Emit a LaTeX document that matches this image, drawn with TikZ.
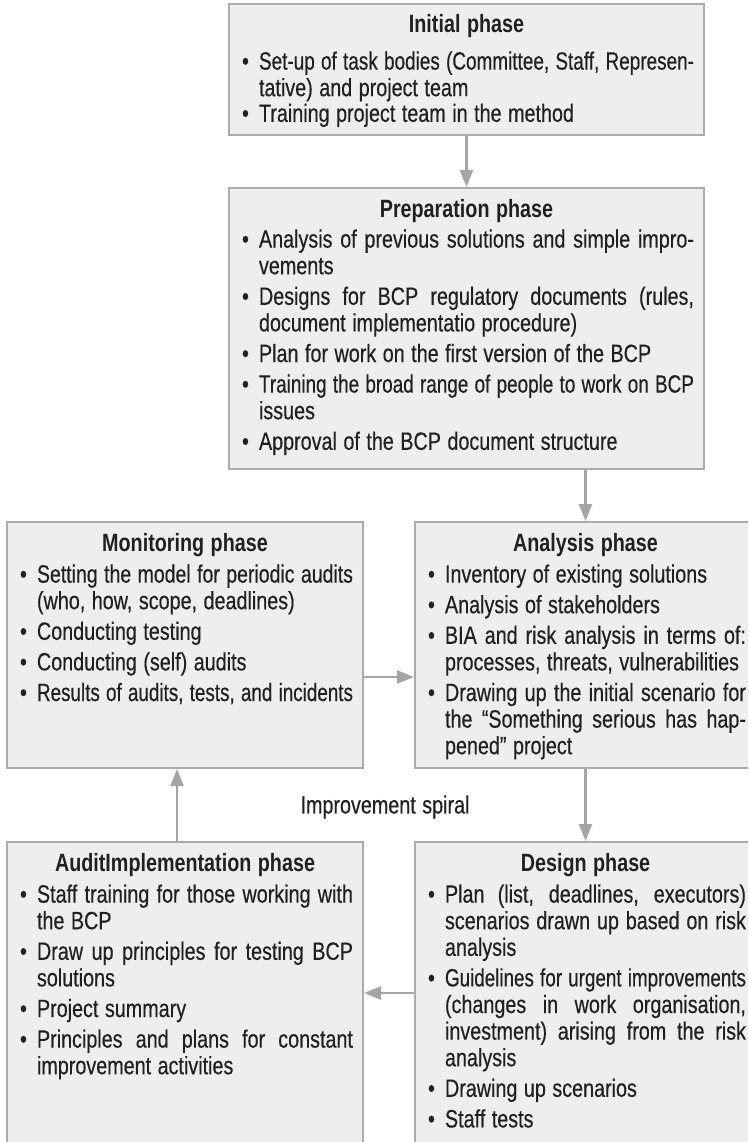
\documentclass[tikz,border=0pt]{standalone}
\usepackage{fontspec}
\usepackage{graphicx}
\setmainfont{Liberation Sans}[FakeStretch=0.79, UprightFeatures={FakeBold=0.4}]
\usetikzlibrary{arrows.meta}
\definecolor{boxfill}{HTML}{EEEEEE}
\definecolor{boxline}{HTML}{ABABAB}
\definecolor{arrowc}{HTML}{A5A5A5}
\definecolor{txt}{HTML}{231F20}
\newlength\phW
\newlength\phA
\newcommand\phSp{\spaceskip=0.26em plus 0.8em minus 0.08em\relax\xspaceskip=\spaceskip}
% fitted line: #1 = s (justified) or l (left), #2 = text
\newcommand\phFit[2]{%
  \setlength\phA{\dimexpr\linewidth-20pt\relax}%
  \settowidth\phW{\phSp #2}%
  \ifdim\phW>\phA
    \resizebox{\phA}{\height}{\phSp #2}%
  \else
    \makebox[\phA][#1]{\phSp #2}%
  \fi}
\newcommand\phB[2]{\makebox[20pt][l]{\hspace{3pt}\textbullet}\phFit{#1}{#2}}
\newcommand\phI[2]{\hspace*{20pt}\phFit{#1}{#2}}
\newcommand\phTitle[1]{\makebox[\linewidth][c]{\phSp\bfseries #1}}
\newcommand\phFont{\fontsize{25}{26.6}\selectfont}
\tikzset{
  phase/.style={draw=boxline, line width=2pt, fill=boxfill, anchor=north west,
    inner xsep=10pt, inner ysep=11pt, text height=18pt, align=left, text=txt,
    font=\phFont},
  flow/.style={draw=arrowc, line width=2.5pt, -{Triangle[length=17pt,width=13pt]}},
  plain/.style={text=txt, font=\phFont}
}
\begin{document}
\begin{tikzpicture}[x=1pt,y=-1pt]
\useasboundingbox (0,0) rectangle (748,1142);
\clip (0,0) rectangle (748,1142);

\node[phase, text width=455pt, text depth=91pt] (ini) at (228,3) {%
\phTitle{Initial phase}\\[10pt]
\phB{s}{Set-up of task bodies (Committee, Staff, Represen-}\\
\phI{l}{tative) and project team}\\[-1pt]
\phB{l}{Training project team in the method}};

\node[phase, text width=455pt, text depth=241pt] (prep) at (228,187) {%
\phTitle{Preparation phase}\\[4pt]
\phB{s}{Analysis of previous solutions and simple impro-}\\
\phI{l}{vements}\\[4pt]
\phB{s}{Designs for BCP regulatory documents (rules,}\\
\phI{l}{document implementatio procedure)}\\[4pt]
\phB{l}{Plan for work on the first version of the BCP}\\[4pt]
\phB{s}{Training the broad range of people to work on BCP}\\
\phI{l}{issues}\\[4pt]
\phB{l}{Approval of the BCP document structure}};

\node[phase, text width=336pt, text depth=206pt] (mon) at (6,521) {%
\phTitle{Monitoring phase}\\[5pt]
\phB{s}{Setting the model for periodic audits}\\
\phI{l}{(who, how, scope, deadlines)}\\[4pt]
\phB{l}{Conducting testing}\\[4pt]
\phB{l}{Conducting (self) audits}\\[4pt]
\phB{l}{Results of audits, tests, and incidents}};

\node[phase, text width=321pt, text depth=206pt] (ana) at (414,521) {%
\phTitle{Analysis phase}\\[5pt]
\phB{l}{Inventory of existing solutions}\\[4pt]
\phB{l}{Analysis of stakeholders}\\[4pt]
\phB{s}{BIA and risk analysis in terms of:}\\
\phI{l}{processes, threats, vulnerabilities}\\[4pt]
\phB{s}{Drawing up the initial scenario for}\\
\phI{s}{the “Something serious has hap-}\\
\phI{l}{pened” project}};

\node[phase, text width=336pt, text depth=300pt] (aud) at (6,841) {%
\phTitle{AuditImplementation phase}\\[5pt]
\phB{s}{Staff training for those working with}\\
\phI{l}{the BCP}\\[4pt]
\phB{s}{Draw up principles for testing BCP}\\
\phI{l}{solutions}\\[4pt]
\phB{l}{Project summary}\\[4pt]
\phB{s}{Principles and plans for constant}\\
\phI{l}{improvement activities}};

\node[phase, text width=321pt, text depth=300pt] (des) at (414,841) {%
\phTitle{Design phase}\\[5pt]
\phB{s}{Plan (list, deadlines, executors)}\\
\phI{s}{scenarios drawn up based on risk}\\
\phI{l}{analysis}\\[4pt]
\phB{s}{Guidelines for urgent improvements}\\
\phI{s}{(changes in work organisation,}\\
\phI{s}{investment) arising from the risk}\\
\phI{l}{analysis}\\[4pt]
\phB{l}{Drawing up scenarios}\\[4pt]
\phB{l}{Staff tests}};

\node[plain] (spiral) at (385,807) {\phSp Improvement spiral};

\draw[flow] (ini) -- (prep);
\draw[flow] (ana.north |- prep.south) -- (ana.north);
\draw[flow] ([yshift=-156pt]mon.north east) -- ([yshift=-156pt]ana.north west);
\draw[flow] (ana) -- (des);
\draw[flow] ([yshift=-152pt]des.north west) -- ([yshift=-152pt]aud.north east);
\draw[flow] ([xshift=-8pt]aud.north) -- ([xshift=-8pt]mon.south);
\end{tikzpicture}
\end{document}
